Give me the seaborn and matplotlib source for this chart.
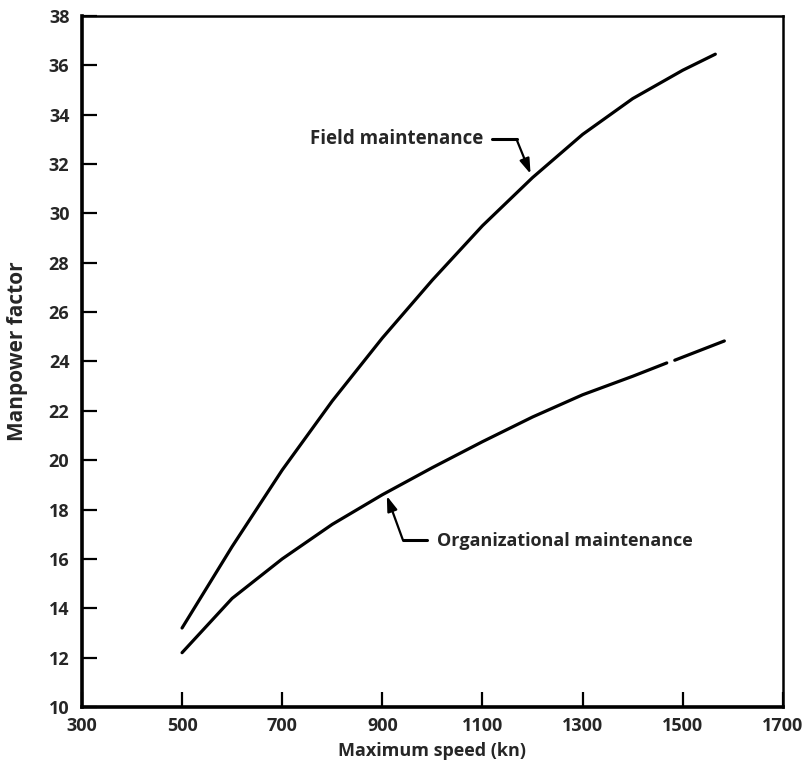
import pandas as pd
import numpy as np
import seaborn as sns
import matplotlib.pyplot as plt

# values
field_speed = [500, 600, 700, 800, 900, 1000, 1100, 1200, 1300, 1400, 1500, 1565]
field_factor = [13.2, 16.5, 19.6, 22.4, 24.95, 27.3, 29.5, 31.45, 33.2, 34.65, 35.8, 36.45]

org_speed = [500, 600, 700, 800, 900, 1000, 1100, 1200, 1300, 1400, 1468]
org_factor = [12.2, 14.4, 16.0, 17.4, 18.6, 19.7, 20.75, 21.75, 22.65, 23.4, 23.94]
org_speed_tail = [1484, 1583]
org_factor_tail = [24.05, 24.83]

x_ticks = [300, 500, 700, 900, 1100, 1300, 1500, 1700]
y_ticks = list(range(10, 40, 2))

df_field = pd.DataFrame({"speed": field_speed, "factor": field_factor})
df_org = pd.DataFrame({"speed": org_speed, "factor": org_factor})
df_org_tail = pd.DataFrame({"speed": org_speed_tail, "factor": org_factor_tail})

sns.set_style("ticks")
plt.rcParams["font.family"] = ["Open Sans", "DejaVu Sans"]

fig = plt.figure(figsize=(8.03, 7.73), dpi=100)
ax = fig.add_axes([0.102, 0.0854, 0.873, 0.894])

line_kw = dict(color="black", linewidth=2.3, estimator=None, sort=True)
sns.lineplot(data=df_field, x="speed", y="factor", ax=ax, **line_kw)
sns.lineplot(data=df_org, x="speed", y="factor", ax=ax, **line_kw)
sns.lineplot(data=df_org_tail, x="speed", y="factor", ax=ax, **line_kw)

ax.set_xlim(300, 1700)
ax.set_ylim(10, 38)
ax.set_xticks(x_ticks)
ax.set_yticks(y_ticks)
ax.set_xticklabels([str(t) for t in x_ticks], fontsize=13, fontweight="bold")
ax.set_yticklabels([str(t) for t in y_ticks], fontsize=13, fontweight="bold")
ax.tick_params(axis="both", direction="in", length=11, width=1.6, color="black")
ax.tick_params(axis="y", pad=9)
ax.tick_params(axis="x", pad=7)
for side in ["left", "bottom"]:
    ax.spines[side].set_linewidth(2.6)
for side in ["right", "top"]:
    ax.spines[side].set_linewidth(1.8)
for side in ax.spines:
    ax.spines[side].set_color("black")

ax.set_xlabel("Maximum speed (kn)", fontsize=13, fontweight="bold")
ax.set_ylabel("Manpower factor", fontsize=15, fontweight="bold")
ax.xaxis.set_label_coords(0.5, -0.05)
ax.yaxis.set_label_coords(-0.077, 0.515)

# leader arrows and labels
ax.text(1102, 33.0, "Field maintenance", ha="right", va="center", fontsize=13.5, fontweight="bold")
ax.plot([1118, 1168], [33.0, 33.0], color="black", linewidth=2.2)
ax.annotate("", xy=(1196, 31.6), xytext=(1168, 33.0),
            arrowprops=dict(arrowstyle="-|>,head_length=0.9,head_width=0.3", color="black", lw=1.6,
                            shrinkA=0, shrinkB=0))

ax.text(1009, 16.72, "Organizational maintenance", ha="left", va="center", fontsize=13, fontweight="bold")
ax.plot([941, 990], [16.77, 16.77], color="black", linewidth=2.2)
ax.annotate("", xy=(909, 18.55), xytext=(941, 16.77),
            arrowprops=dict(arrowstyle="-|>,head_length=0.9,head_width=0.3", color="black", lw=1.6,
                            shrinkA=0, shrinkB=0))

fig.savefig("out.png", dpi=100)
